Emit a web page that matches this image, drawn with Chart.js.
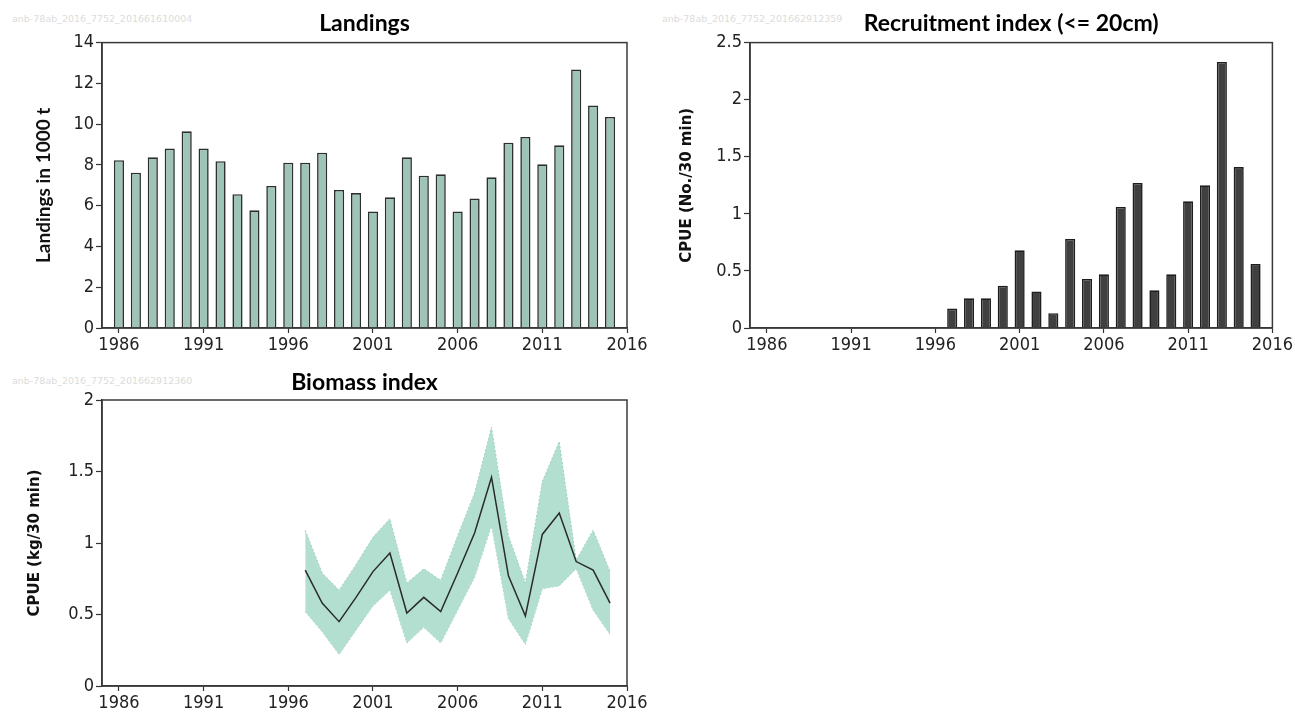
<!DOCTYPE html>
<html lang="en">
<head>
  <meta charset="UTF-8">
  <title>Landings, recruitment and biomass index</title>
  <script src="https://cdn.jsdelivr.net/npm/chart.js"></script>
  <style>
    body { margin: 0; width: 1295px; height: 715px; position: relative; background: #fff; overflow: hidden; }
    .box { position: absolute; }
    .wm { position: absolute; font: 9.5px 'DejaVu Sans', sans-serif; color: #dcdcdc; white-space: nowrap; }
  </style>
</head>
<body>
  <div class="wm" style="left:12px; top:13px">anb-78ab_2016_7752_201661610004</div>
  <div class="wm" style="left:662px; top:13px">anb-78ab_2016_7752_201662912359</div>
  <div class="wm" style="left:12px; top:375px">anb-78ab_2016_7752_201662912360</div>

  <div class="box" style="left:0; top:0; width:650px; height:365px"><canvas id="landings"></canvas></div>
  <div class="box" style="left:648px; top:0; width:647px; height:365px"><canvas id="recruit"></canvas></div>
  <div class="box" style="left:0; top:360px; width:650px; height:355px"><canvas id="biomass"></canvas></div>

  <script>
    const tickYears = [1986, 1991, 1996, 2001, 2006, 2011, 2016];

    const landingYears = [1986, 1987, 1988, 1989, 1990, 1991, 1992, 1993, 1994, 1995,
      1996, 1997, 1998, 1999, 2000, 2001, 2002, 2003, 2004, 2005,
      2006, 2007, 2008, 2009, 2010, 2011, 2012, 2013, 2014, 2015];
    const landings = [8.23, 7.62, 8.37, 8.80, 9.65, 8.80, 8.18, 6.56, 5.77, 6.97,
      8.11, 8.11, 8.60, 6.77, 6.62, 5.72, 6.41, 8.37, 7.47, 7.54,
      5.72, 6.35, 7.39, 9.09, 9.37, 8.03, 8.96, 12.68, 10.91, 10.35];

    const surveyYears = [1997, 1998, 1999, 2000, 2001, 2002, 2003, 2004, 2005, 2006,
      2007, 2008, 2009, 2010, 2011, 2012, 2013, 2014, 2015];
    const recruitment = [0.17, 0.26, 0.26, 0.37, 0.68, 0.32, 0.13, 0.78, 0.43, 0.47,
      1.06, 1.27, 0.33, 0.47, 1.11, 1.25, 2.33, 1.41, 0.56];
    const biomass = [0.81, 0.58, 0.45, 0.62, 0.80, 0.93, 0.51, 0.62, 0.52, 0.79,
      1.07, 1.46, 0.77, 0.49, 1.06, 1.21, 0.87, 0.81, 0.58];
    const biomassUpper = [1.09, 0.79, 0.67, 0.85, 1.04, 1.17, 0.72, 0.82, 0.74, 1.05,
      1.35, 1.81, 1.05, 0.72, 1.43, 1.71, 0.88, 1.09, 0.80];
    const biomassLower = [0.52, 0.38, 0.22, 0.39, 0.56, 0.67, 0.30, 0.41, 0.30, 0.53,
      0.76, 1.12, 0.47, 0.29, 0.68, 0.70, 0.82, 0.53, 0.36];

    const tickFont = { family: "'Liberation Sans Narrow', 'DejaVu Sans Condensed', sans-serif", size: 18 };
    const pts = (xs, ys) => xs.map((x, i) => ({ x: x, y: ys[i] }));

    // box round the plot area
    const frame = {
      id: 'frame',
      afterDraw(chart) {
        const a = chart.chartArea, c = chart.ctx;
        c.save();
        c.strokeStyle = '#3a3a3a';
        c.lineWidth = 1.5;
        c.strokeRect(a.left, a.top, a.right - a.left, a.bottom - a.top);
        c.restore();
      }
    };

    function xAxis(h) {
      return {
        type: 'linear', min: 1985, max: 2016, offset: false,
        afterBuildTicks: s => { s.ticks = tickYears.map(v => ({ value: v })); },
        afterFit: s => { s.height = h; },
        ticks: { callback: v => String(v), color: '#222', font: tickFont, padding: 2, maxRotation: 0, autoSkip: false },
        grid: { drawOnChartArea: false, offset: false, tickLength: 5, tickColor: '#333', tickWidth: 1.2 },
        border: { color: '#333', width: 1.5 }
      };
    }

    function yAxis(max, step, title, font, pad) {
      return {
        min: 0, max: max,
        afterFit: s => { s.width = 102; },
        ticks: { stepSize: step, callback: v => String(+v.toFixed(2)), color: '#222', font: tickFont, padding: 2 },
        grid: { drawOnChartArea: false, tickLength: 6, tickColor: '#333', tickWidth: 1.2 },
        border: { color: '#333', width: 1.5 },
        title: { display: true, text: title, color: '#111', font: font, padding: { top: pad, bottom: 0 } }
      };
    }

    function titleOpts(text, top, bottom) {
      return {
        display: true, text: text, color: '#000', fullSize: false,
        font: { family: 'Lato', weight: 'bold', size: 23 },
        padding: { top: top, bottom: bottom }
      };
    }

    new Chart(document.getElementById('landings'), {
      type: 'bar',
      data: {
        datasets: [{
          data: pts(landingYears, landings),
          backgroundColor: '#9ec4b7', borderColor: '#2e2e2e', borderWidth: 1.6,
          barPercentage: 0.6, categoryPercentage: 1
        }]
      },
      options: {
        responsive: true, maintainAspectRatio: false, animation: false,
        layout: { padding: { left: 0, right: 23, top: 0, bottom: 0 } },
        plugins: { legend: { display: false }, tooltip: { enabled: false }, title: titleOpts('Landings', 10, 5) },
        scales: {
          x: xAxis(37),
          y: yAxis(14, 2, 'Landings in 1000 t', { family: 'Lato', weight: 'bold', size: 19 }, 32)
        }
      },
      plugins: [frame]
    });

    new Chart(document.getElementById('recruit'), {
      type: 'bar',
      data: {
        datasets: [{
          data: pts(surveyYears, recruitment),
          backgroundColor: '#404040', borderColor: '#1e1e1e', borderWidth: 1.6,
          barPercentage: 0.6, categoryPercentage: 1
        }]
      },
      options: {
        responsive: true, maintainAspectRatio: false, animation: false,
        layout: { padding: { left: 0, right: 20, top: 0, bottom: 0 } },
        plugins: { legend: { display: false }, tooltip: { enabled: false }, title: titleOpts('Recruitment index (<= 20cm)', 10, 5) },
        scales: {
          x: xAxis(37),
          y: yAxis(2.5, 0.5, 'CPUE (No./30 min)', { family: 'DejaVu Sans', weight: 'bold', size: 15 }, 30)
        }
      },
      plugins: [frame]
    });

    new Chart(document.getElementById('biomass'), {
      type: 'line',
      data: {
        datasets: [
          {
            data: pts(surveyYears, biomass), order: 0,
            borderColor: '#2b2b2b', borderWidth: 1.5, pointRadius: 0, fill: false
          },
          {
            data: pts(surveyYears, biomassLower), order: 2,
            borderColor: '#a3d2c2', borderWidth: 1, borderDash: [2, 2], pointRadius: 0, fill: false
          },
          {
            data: pts(surveyYears, biomassUpper), order: 1,
            borderColor: '#a3d2c2', borderWidth: 1, borderDash: [2, 2], pointRadius: 0,
            backgroundColor: '#b3dfd0', fill: 1
          }
        ]
      },
      options: {
        responsive: true, maintainAspectRatio: false, animation: false,
        layout: { padding: { left: 0, right: 23, top: 0, bottom: 0 } },
        plugins: { legend: { display: false }, tooltip: { enabled: false }, title: titleOpts('Biomass index', 9, 3.4) },
        scales: {
          x: xAxis(29),
          y: yAxis(2, 0.5, 'CPUE (kg/30 min)', { family: 'DejaVu Sans', weight: 'bold', size: 15 }, 26)
        }
      },
      plugins: [frame]
    });
  </script>
</body>
</html>
